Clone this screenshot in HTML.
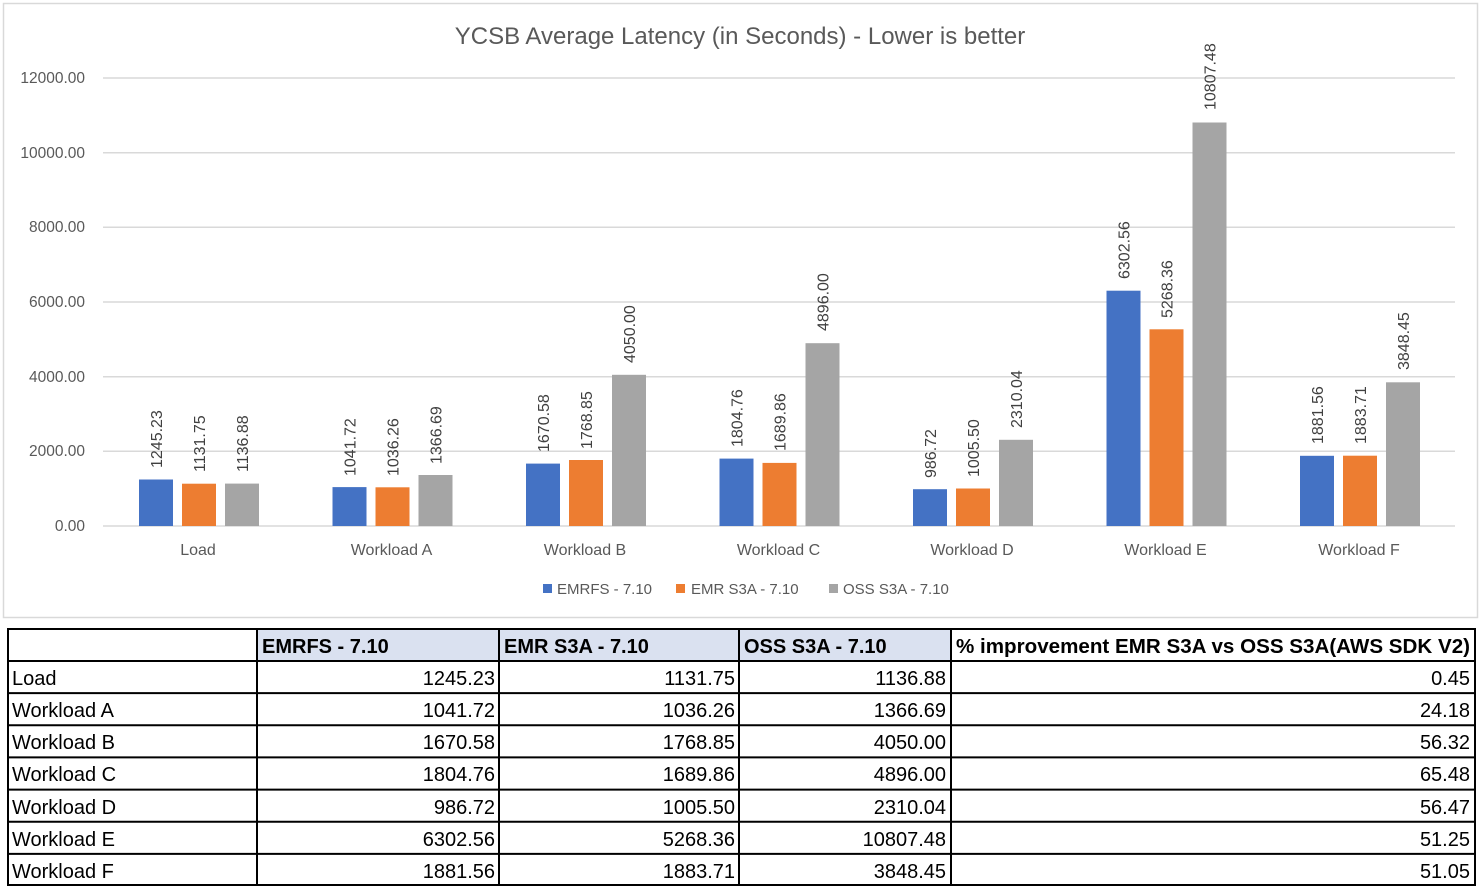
<!DOCTYPE html>
<html><head><meta charset="utf-8"><style>
html,body{margin:0;padding:0;background:#fff;}
svg{display:block;}
</style></head><body>
<svg width="1480" height="890" xmlns="http://www.w3.org/2000/svg" font-family="Liberation Sans, sans-serif">
<rect x="0" y="0" width="1480" height="890" fill="#fff"/>
<rect x="3.5" y="3.5" width="1474" height="614" fill="#fff" stroke="#d9d9d9" stroke-width="1.5"/>
<text x="740" y="44" text-anchor="middle" font-size="24" fill="#595959">YCSB Average Latency (in Seconds) - Lower is better</text>
<g stroke="#d9d9d9" stroke-width="1.5">
<line x1="103" x2="1455" y1="78" y2="78"/>
<line x1="103" x2="1455" y1="152.7" y2="152.7"/>
<line x1="103" x2="1455" y1="227.3" y2="227.3"/>
<line x1="103" x2="1455" y1="302" y2="302"/>
<line x1="103" x2="1455" y1="376.7" y2="376.7"/>
<line x1="103" x2="1455" y1="451.3" y2="451.3"/>
<line x1="103" x2="1455" y1="526" y2="526"/>
</g>
<g font-size="15.5" fill="#595959" text-anchor="end">
<text x="85" y="83">12000.00</text>
<text x="85" y="158">10000.00</text>
<text x="85" y="232">8000.00</text>
<text x="85" y="307">6000.00</text>
<text x="85" y="382">4000.00</text>
<text x="85" y="456">2000.00</text>
<text x="85" y="531">0.00</text>
</g>
<g>
<rect x="139" y="479.5" width="34" height="46.5" fill="#4472c4"/><rect x="182" y="483.7" width="34" height="42.3" fill="#ed7d31"/><rect x="225" y="483.6" width="34" height="42.4" fill="#a5a5a5"/>
<rect x="332.5" y="487.1" width="34" height="38.9" fill="#4472c4"/><rect x="375.5" y="487.3" width="34" height="38.7" fill="#ed7d31"/><rect x="418.5" y="475" width="34" height="51" fill="#a5a5a5"/>
<rect x="526" y="463.6" width="34" height="62.4" fill="#4472c4"/><rect x="569" y="460" width="34" height="66" fill="#ed7d31"/><rect x="612" y="374.8" width="34" height="151.2" fill="#a5a5a5"/>
<rect x="719.5" y="458.6" width="34" height="67.4" fill="#4472c4"/><rect x="762.5" y="462.9" width="34" height="63.1" fill="#ed7d31"/><rect x="805.5" y="343.2" width="34" height="182.8" fill="#a5a5a5"/>
<rect x="913" y="489.2" width="34" height="36.8" fill="#4472c4"/><rect x="956" y="488.5" width="34" height="37.5" fill="#ed7d31"/><rect x="999" y="439.8" width="34" height="86.2" fill="#a5a5a5"/>
<rect x="1106.5" y="290.7" width="34" height="235.3" fill="#4472c4"/><rect x="1149.5" y="329.3" width="34" height="196.7" fill="#ed7d31"/><rect x="1192.5" y="122.5" width="34" height="403.5" fill="#a5a5a5"/>
<rect x="1300" y="455.8" width="34" height="70.2" fill="#4472c4"/><rect x="1343" y="455.7" width="34" height="70.3" fill="#ed7d31"/><rect x="1386" y="382.3" width="34" height="143.7" fill="#a5a5a5"/>
</g>
<g font-size="16" fill="#404040">
<text transform="translate(162,468) rotate(-90)">1245.23</text>
<text transform="translate(205,472) rotate(-90)">1131.75</text>
<text transform="translate(248,472) rotate(-90)">1136.88</text>
<text transform="translate(355.5,476) rotate(-90)">1041.72</text>
<text transform="translate(398.5,476) rotate(-90)">1036.26</text>
<text transform="translate(441.5,464) rotate(-90)">1366.69</text>
<text transform="translate(549,452) rotate(-90)">1670.58</text>
<text transform="translate(592,449) rotate(-90)">1768.85</text>
<text transform="translate(635,363) rotate(-90)">4050.00</text>
<text transform="translate(742.5,447) rotate(-90)">1804.76</text>
<text transform="translate(785.5,451) rotate(-90)">1689.86</text>
<text transform="translate(828.5,331) rotate(-90)">4896.00</text>
<text transform="translate(936,478) rotate(-90)">986.72</text>
<text transform="translate(979,477) rotate(-90)">1005.50</text>
<text transform="translate(1022,428) rotate(-90)">2310.04</text>
<text transform="translate(1129.5,279) rotate(-90)">6302.56</text>
<text transform="translate(1172.5,318) rotate(-90)">5268.36</text>
<text transform="translate(1215.5,110) rotate(-90)">10807.48</text>
<text transform="translate(1323,444) rotate(-90)">1881.56</text>
<text transform="translate(1366,444) rotate(-90)">1883.71</text>
<text transform="translate(1409,370) rotate(-90)">3848.45</text>
</g>
<g font-size="16" fill="#595959" text-anchor="middle">
<text x="198" y="555">Load</text>
<text x="391.5" y="555">Workload A</text>
<text x="585" y="555">Workload B</text>
<text x="778.5" y="555">Workload C</text>
<text x="972" y="555">Workload D</text>
<text x="1165.5" y="555">Workload E</text>
<text x="1359" y="555">Workload F</text>
</g>
<g font-size="15" fill="#595959">
<rect x="543" y="584" width="9" height="9" fill="#4472c4"/><text x="557" y="594">EMRFS - 7.10</text>
<rect x="676" y="584" width="9" height="9" fill="#ed7d31"/><text x="691" y="594">EMR S3A - 7.10</text>
<rect x="829" y="584" width="9" height="9" fill="#a5a5a5"/><text x="843" y="594">OSS S3A - 7.10</text>
</g>
<!-- table -->
<rect x="257" y="629" width="694" height="32" fill="#dae1f0"/>
<g stroke="#000" stroke-width="2" fill="none">
<rect x="8" y="629" width="1467" height="256"/>
<line x1="8" x2="1475" y1="661" y2="661"/>
<line x1="8" x2="1475" y1="693.1" y2="693.1"/>
<line x1="8" x2="1475" y1="725.3" y2="725.3"/>
<line x1="8" x2="1475" y1="757.4" y2="757.4"/>
<line x1="8" x2="1475" y1="789.6" y2="789.6"/>
<line x1="8" x2="1475" y1="821.7" y2="821.7"/>
<line x1="8" x2="1475" y1="853.9" y2="853.9"/>
<line x1="257" x2="257" y1="629" y2="885"/>
<line x1="499" x2="499" y1="629" y2="885"/>
<line x1="739" x2="739" y1="629" y2="885"/>
<line x1="951" x2="951" y1="629" y2="885"/>
</g>
<g font-size="20" font-weight="bold" fill="#000">
<text x="262" y="653">EMRFS - 7.10</text>
<text x="504" y="653">EMR S3A - 7.10</text>
<text x="744" y="653">OSS S3A - 7.10</text>
<text x="956" y="653" textLength="514" lengthAdjust="spacingAndGlyphs">% improvement EMR S3A vs OSS S3A(AWS SDK V2)</text>
</g>
<g font-size="20" fill="#000">
<text x="12" y="685">Load</text>
<text x="12" y="717">Workload A</text>
<text x="12" y="749">Workload B</text>
<text x="12" y="781">Workload C</text>
<text x="12" y="814">Workload D</text>
<text x="12" y="846">Workload E</text>
<text x="12" y="878">Workload F</text>
</g>
<g font-size="20" fill="#000" text-anchor="end">
<text x="495" y="685">1245.23</text><text x="735" y="685">1131.75</text><text x="946" y="685">1136.88</text><text x="1470" y="685">0.45</text>
<text x="495" y="717">1041.72</text><text x="735" y="717">1036.26</text><text x="946" y="717">1366.69</text><text x="1470" y="717">24.18</text>
<text x="495" y="749">1670.58</text><text x="735" y="749">1768.85</text><text x="946" y="749">4050.00</text><text x="1470" y="749">56.32</text>
<text x="495" y="781">1804.76</text><text x="735" y="781">1689.86</text><text x="946" y="781">4896.00</text><text x="1470" y="781">65.48</text>
<text x="495" y="814">986.72</text><text x="735" y="814">1005.50</text><text x="946" y="814">2310.04</text><text x="1470" y="814">56.47</text>
<text x="495" y="846">6302.56</text><text x="735" y="846">5268.36</text><text x="946" y="846">10807.48</text><text x="1470" y="846">51.25</text>
<text x="495" y="878">1881.56</text><text x="735" y="878">1883.71</text><text x="946" y="878">3848.45</text><text x="1470" y="878">51.05</text>
</g>
</svg>
</body></html>
